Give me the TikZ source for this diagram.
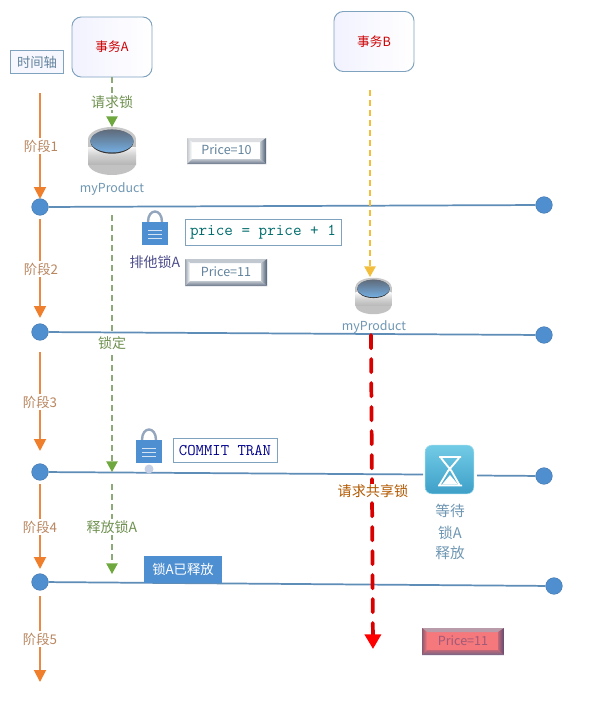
\documentclass[tikz,border=0pt]{standalone}
\usepackage{fontspec}
\setmainfont{Noto Sans CJK SC}
\usetikzlibrary{arrows.meta,shadings}
\definecolor{lineblue}{HTML}{5E8DB8}
\definecolor{dotblue}{HTML}{4F8FD0}
\definecolor{orangeline}{HTML}{E88A45}
\definecolor{orangehead}{HTML}{EF7F2C}
\definecolor{stagetext}{HTML}{B8865F}
\definecolor{greenline}{HTML}{8CA978}
\definecolor{greenhead}{HTML}{6FA83F}
\definecolor{greentext}{HTML}{6F9150}
\definecolor{bluetext}{HTML}{6F97B3}
\definecolor{btntext}{HTML}{62839C}
\definecolor{boxedge}{HTML}{7FA2BE}
\definecolor{lockblue}{HTML}{4E8FD2}
\definecolor{lockring}{HTML}{93A6BE}
\definecolor{btndark}{HTML}{4F5F74}
\definecolor{btnlighta}{HTML}{C4C8CE}
\definecolor{btnlightb}{HTML}{9AA4B0}
\definecolor{redface}{HTML}{F4787C}
\definecolor{reddark}{HTML}{5C4A70}
\definecolor{redlight}{HTML}{8A5A70}
\definecolor{redtext}{HTML}{A05A78}
\definecolor{yellowline}{HTML}{F2BE3C}
\definecolor{hgtop}{HTML}{72CBE6}
\definecolor{hgbot}{HTML}{3E9FC8}
\definecolor{slate}{HTML}{5F6B7A}
\definecolor{dbblue}{HTML}{74AEE2}
\definecolor{markpale}{HTML}{C5CFE6}
\tikzset{
  x=0.75pt,y=-0.75pt,
  txbox/.style={draw=boxedge,rounded corners=7pt,line width=0.7pt,left color=blue!5,right color=white,minimum width=60pt,minimum height=45pt,inner sep=0pt,font=\fontsize{9.5}{11}\selectfont,text=red!80!black},
  plainbox/.style={draw=boxedge,line width=0.7pt,fill=white,inner sep=0pt},
  stagearrow/.style={draw=orangeline,line width=1.4pt,-{Triangle[length=9pt,width=9pt,color=orangehead]}},
  greenarrow/.style={draw=greenline,line width=1pt,dash pattern=on 4.5pt off 3pt,-{Triangle[length=8pt,width=8.5pt,color=greenhead]}},
  yellowarrow/.style={draw=yellowline,line width=1.1pt,dash pattern=on 4.5pt off 3pt,-{Triangle[length=8pt,width=8.5pt,color=yellowline]}},
  redarrow/.style={draw=red!85!black,line width=2.8pt,line cap=round,dash pattern=on 10pt off 8pt,-{Triangle[length=11pt,width=12pt,color=red]}},
  stagelabel/.style={fill=white,inner xsep=1pt,inner ysep=1pt,text=stagetext,font=\fontsize{10}{12}\selectfont},
  greenlabel/.style={fill=white,inner xsep=1pt,inner ysep=1pt,text=greentext,font=\fontsize{10.5}{12}\selectfont},
  dotnode/.style={circle,fill=dotblue,draw=dotblue!80!black,line width=0.3pt,minimum size=12.5pt,inner sep=0pt},
  timeline/.style={draw=lineblue,line width=1.3pt},
  bluelabel/.style={text=bluetext,inner sep=0pt,font=\fontsize{9.3}{12}\selectfont},
}
% name, x1, y1, x2, y2, text, face, dark, light
\newcommand{\bevelbtn}[9]{%
  \pgfmathsetmacro{\xa}{#2+5}\pgfmathsetmacro{\ya}{#3+4}%
  \pgfmathsetmacro{\xb}{#4-6}\pgfmathsetmacro{\yb}{#5-5}%
  \fill[#7] (#2,#3) rectangle (#4,#5);
  \fill[#9!60!white] (#2,#3) -- (#4,#3) -- (\xb,\ya) -- (\xa,\ya) -- cycle;
  \shade[left color=#9,right color=#7] (#2,#3) -- (\xa,\ya) -- (\xa,\yb) -- (#2,#5) -- cycle;
  \shade[left color=#8!35!#7,right color=#8] (#4,#3) -- (#4,#5) -- (\xb,\yb) -- (\xb,\ya) -- cycle;
  \shade[top color=#8!35!#7,bottom color=#8!85!white] (#2,#5) -- (#4,#5) -- (\xb,\yb) -- (\xa,\yb) -- cycle;
  \node[inner sep=0pt,font=\fontsize{9.4}{11}\selectfont] (#1) at ({(#2+#4)/2},{(#3+#5)/2-1}) {#6};
}
% x, y, scale
\newcommand{\dbcyl}[3]{%
  \begin{scope}[shift={(#1,#2)},scale=#3]
    \fill[black!24] (0,12) ellipse [x radius=24,y radius=12];
    \fill[black!24] (-24,-12) rectangle (24,12);
    \shade[top color=black!18,bottom color=black!28] (-24,4) rectangle (24,13);
    \shade[top color=black!4,bottom color=black!18] (-24,-4) rectangle (24,4);
    \fill[black!22] (0,-11.5) ellipse [x radius=24,y radius=12.5];
    \fill[black!80] (0,-9.3) ellipse [x radius=21.5,y radius=12];
    \shade[top color=slate,bottom color=dbblue]
      (0,-10) ellipse [x radius=21.5,y radius=11.5];
  \end{scope}
}
% x, y of body centre
\newcommand{\lockicon}[2]{%
  \begin{scope}[shift={(#1,#2)}]
    \draw[lockring,line width=1.8pt] (-7,-11) .. controls (-7,-25) and (7,-25) .. (7,-11);
    \fill[lockblue] (-13,-11.5) rectangle (13,11.5);
    \draw[white!75!lockblue,line width=0.5pt] (-7,-3) -- (7,-3) (-7,1) -- (7,1) (-7,5) -- (7,5);
  \end{scope}
}
\begin{document}
\begin{tikzpicture}
\useasboundingbox (0,0) rectangle (592,703);
\fill[white] (0,0) rectangle (592,703);

% top boxes
\node[txbox] (ta) at (112,47) {事务A};
\node[txbox] (tb) at (374,41.5) {事务B};
\node[plainbox,minimum width=39.5pt,minimum height=17.5pt,text=btntext,font=\fontsize{10}{12}\selectfont,fill=blue!3] (axis) at (37,62) {时间轴};

% dots
\node[dotnode] (l1) at (40,207) {};
\node[dotnode] (l2) at (40,332) {};
\node[dotnode] (l3) at (40,472) {};
\node[dotnode] (l4) at (40,582) {};
\node[dotnode] (r1) at (544,205) {};
\node[dotnode] (r2) at (544,335) {};
\node[dotnode] (r3) at (544,476) {};
\node[dotnode] (r4) at (554,586) {};

% hourglass
\node[draw=hgtop!70!white,rounded corners=5pt,line width=0.4pt,top color=hgtop,bottom color=hgbot,minimum width=36.5pt,minimum height=36.5pt,inner sep=0pt] (hg) at (449.5,469.5) {};
\draw[white,line width=1.4pt,line join=round] (439,457) -- (461,457) (441,458) -- (451.5,471) -- (460,486) (459,458) -- (448,471) -- (439,486) (438,485.5) -- (462,485.5);
\fill[white] (450,475) -- (458,484.5) -- (442,484.5) -- cycle;
\coordinate (hgl) at (423,474.5);
\coordinate (hgr) at (477,475.5);

% horizontal lines
\draw[timeline] (l1) -- (r1);
\draw[timeline] (l2) -- (r2);
\draw[timeline] (l3) -- (hgl);
\draw[timeline] (hgr) -- (r3);
\draw[timeline] (l4) -- (r4);

% stage arrows
\coordinate (s1) at (40,93);  \coordinate (e1) at (40,199);
\coordinate (s2) at (40,219); \coordinate (e2) at (40,318);
\coordinate (s3) at (40,352); \coordinate (e3) at (40,451);
\coordinate (s4) at (40,484); \coordinate (e4) at (40,569);
\coordinate (s5) at (40,596); \coordinate (e5) at (40,682);
\draw[stagearrow] (s1) -- (e1);
\draw[stagearrow] (s2) -- (e2);
\draw[stagearrow] (s3) -- (e3);
\draw[stagearrow] (s4) -- (e4);
\draw[stagearrow] (s5) -- (e5);
\node[stagelabel] (p1) at (41,146) {阶段1};
\node[stagelabel] (p2) at (41,269) {阶段2};
\node[stagelabel] (p3) at (40,402) {阶段3};
\node[stagelabel] (p4) at (40,527) {阶段4};
\node[stagelabel] (p5) at (40,639) {阶段5};

% cylinders
\dbcyl{112}{151}{1}
\dbcyl{373.5}{296}{0.76}
\coordinate (cyl1) at (112,127);
\coordinate (cyl2) at (370,277);
\node[bluelabel] (n1) at (112,189) {myProduct};
\node[bluelabel] (n2) at (374,327) {myProduct};

% green dashed arrows
\coordinate (g2s) at (112,215); \coordinate (g2e) at (112,472);
\coordinate (g3s) at (112,484); \coordinate (g3e) at (112,574);
\draw[greenarrow] (ta.south) -- (cyl1);
\draw[greenarrow] (g2s) -- (g2e);
\draw[greenarrow] (g3s) -- (g3e);
\node[greenlabel] (q1) at (112,102) {请求锁};
\node[greenlabel] (q2) at (112,343) {锁定};
\node[greenlabel] (q3) at (112,527) {释放锁A};

% yellow and red arrows
\coordinate (y1) at (370,90);
\draw[yellowarrow] (y1) -- (cyl2);
\coordinate (rs) at (371,335); \coordinate (re) at (373,649);
\draw[redarrow] (rs) -- (re);
\node[inner xsep=1pt,inner ysep=0.5pt,fill=white,text=orange!70!black,font=\fontsize{10.6}{12}\selectfont] (ask) at (373,491) {请求共享锁};

% locks
\lockicon{155}{233}
\node[inner sep=0pt,text=black!65!blue!70,font=\fontsize{10.5}{12}\selectfont] (xl) at (155,262) {排他锁A};
\lockicon{149}{451}
\fill[markpale] (149,469) circle [radius=4.5];

% code boxes
\node[plainbox,minimum width=117pt,minimum height=19.5pt,text=teal!85!black,font=\fontsize{12.5}{14}\ttfamily] (code) at (263,232) {price = price + 1};
\node[plainbox,minimum width=78pt,minimum height=18.5pt,text=blue!55!black,font=\fontsize{12.2}{14}\ttfamily] (commit) at (225,450.5) {COMMIT TRAN};

% buttons
\bevelbtn{pa}{187}{138}{266}{164}{\textcolor{btntext}{Price=10}}{white}{btndark}{btnlighta}
\bevelbtn{pb}{185}{259}{267}{286}{\textcolor{btntext}{Price=11}}{white}{btndark}{btnlightb}
\bevelbtn{pc}{422}{628}{504}{655}{\textcolor{redtext}{Price=11}}{redface}{reddark}{redlight}

% released box
\node[fill=lockblue,minimum width=58.5pt,minimum height=20pt,inner sep=0pt,text=white,font=\fontsize{10}{12}\selectfont] (rel) at (183,569.5) {锁A已释放};

% waiting text
\node[bluelabel,font=\fontsize{11}{15}\selectfont] (w1) at (450,511) {等待};
\node[bluelabel,font=\fontsize{11}{15}\selectfont] (w2) at (450,533) {锁A};
\node[bluelabel,font=\fontsize{11}{15}\selectfont] (w3) at (450,553) {释放};
\end{tikzpicture}
\end{document}
